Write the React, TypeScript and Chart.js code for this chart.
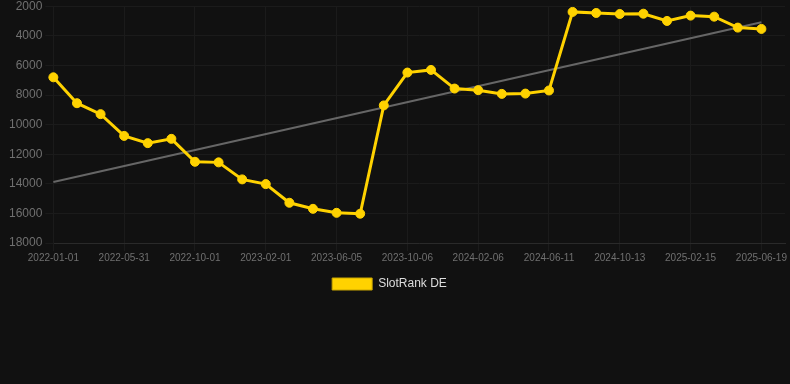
import React, { useEffect, useRef } from "react";
import { Chart, registerables } from "chart.js";

Chart.register(...registerables);

const categories: string[] = [
  "2022-01-01", "2022-02-20", "2022-04-11",
  "2022-05-31", "2022-07-11", "2022-08-21",
  "2022-10-01", "2022-11-11", "2022-12-22",
  "2023-02-01", "2023-03-13", "2023-04-24",
  "2023-06-05", "2023-07-16", "2023-08-26",
  "2023-10-06", "2023-11-16", "2023-12-27",
  "2024-02-06", "2024-03-18", "2024-04-30",
  "2024-06-11", "2024-07-22", "2024-09-01",
  "2024-10-13", "2024-11-24", "2025-01-04",
  "2025-02-15", "2025-03-28", "2025-05-09",
  "2025-06-19", "2025-07-30",
];

const slotRankDE: (number | null)[] = [
  6800, 8550, 9290, 10760, 11250, 10960, 12510, 12550, 13700, 14020,
  15280, 15690, 15960, 16020, 8700, 6480, 6300, 7560, 7670, 7920,
  7900, 7690, 2380, 2450, 2520, 2500, 2990, 2630, 2700, 3440, 3530,
  null,
];

const trendStart = 13880;
const trendEnd = 3080;
const trendEndIndex = 30;

const yTicks: number[] = [2000, 4000, 6000, 8000, 10000, 12000, 14000, 16000, 18000];

const legendShift = {
  id: "legendShift",
  afterLayout(chart: any) {
    const l = chart.legend;
    if (l) {
      l.left -= 6;
      l.right -= 6;
    }
  },
};

export default function App() {
  const ref = useRef<HTMLCanvasElement | null>(null);

  useEffect(() => {
    document.body.style.margin = "0";
    document.body.style.background = "#111111";
    const canvas = ref.current;
    if (!canvas) return;
    const trend: (number | null)[] = categories.map((_, i) =>
      i === 0 ? trendStart : i === trendEndIndex ? trendEnd : null
    );
    const family = "Arial, 'Liberation Sans', sans-serif";
    const chart = new Chart(canvas, {
      type: "line",
      data: {
        labels: categories,
        datasets: [
          {
            label: "SlotRank DE",
            data: slotRankDE,
            borderColor: "#FFD200",
            backgroundColor: "#FFD200",
            borderWidth: 3,
            pointRadius: 4.5,
            pointBorderWidth: 1,
            pointHoverRadius: 4.5,
            pointBackgroundColor: "#FFD200",
            pointBorderColor: "#FFD200",
            tension: 0,
          },
          {
            label: "trend",
            data: trend,
            borderColor: "#666666",
            backgroundColor: "#666666",
            borderWidth: 2,
            pointRadius: 0,
            spanGaps: true,
            tension: 0,
          },
        ],
      },
      plugins: [legendShift],
      options: {
        animation: false,
        responsive: false,
        maintainAspectRatio: false,
        layout: { autoPadding: false, padding: { left: 6, right: 5, top: 0, bottom: 0 } },
        plugins: {
          legend: {
            position: "bottom",
            labels: {
              color: "#dddddd",
              font: { size: 12, family },
              boxWidth: 40,
              boxHeight: 12,
              generateLabels: (c) => {
                const items = Chart.defaults.plugins.legend.labels.generateLabels(c);
                return items
                  .filter((it) => it.text !== "trend")
                  .map((it) => ({ ...it, lineWidth: 1, strokeStyle: "#C9A600", fillStyle: "#FFD200" }));
              },
            },
          },
          tooltip: { enabled: false },
        },
        scales: {
          x: {
            grid: { color: "#1b1b1b", tickColor: "#1b1b1b" },
            border: { color: "#2a2a2a" },
            afterFit: (s: any) => {
              s.height = 25;
            },
            ticks: {
              color: "#707070",
              padding: 1,
              font: { size: 10, family },
              autoSkip: false,
              maxRotation: 0,
              callback: (_v, i) => (i % 3 === 0 && i < 31 ? categories[i] : null),
            },
          },
          y: {
            reverse: true,
            min: yTicks[0],
            max: yTicks[yTicks.length - 1],
            grid: { color: "#1b1b1b", tickColor: "#1b1b1b" },
            border: { color: "#1b1b1b" },
            afterBuildTicks: (axis) => {
              axis.ticks = yTicks.map((v) => ({ value: v }));
            },
            ticks: {
              color: "#707070",
              font: { size: 12, family, lineHeight: 0.55 },
              callback: (v) => String(v),
            },
          },
        },
      },
    });
    return () => chart.destroy();
  }, []);

  return (
    <div style={{ width: 790, height: 384, background: "#111111" }}>
      <canvas ref={ref} width={790} height={300} style={{ display: "block" }} />
    </div>
  );
}
